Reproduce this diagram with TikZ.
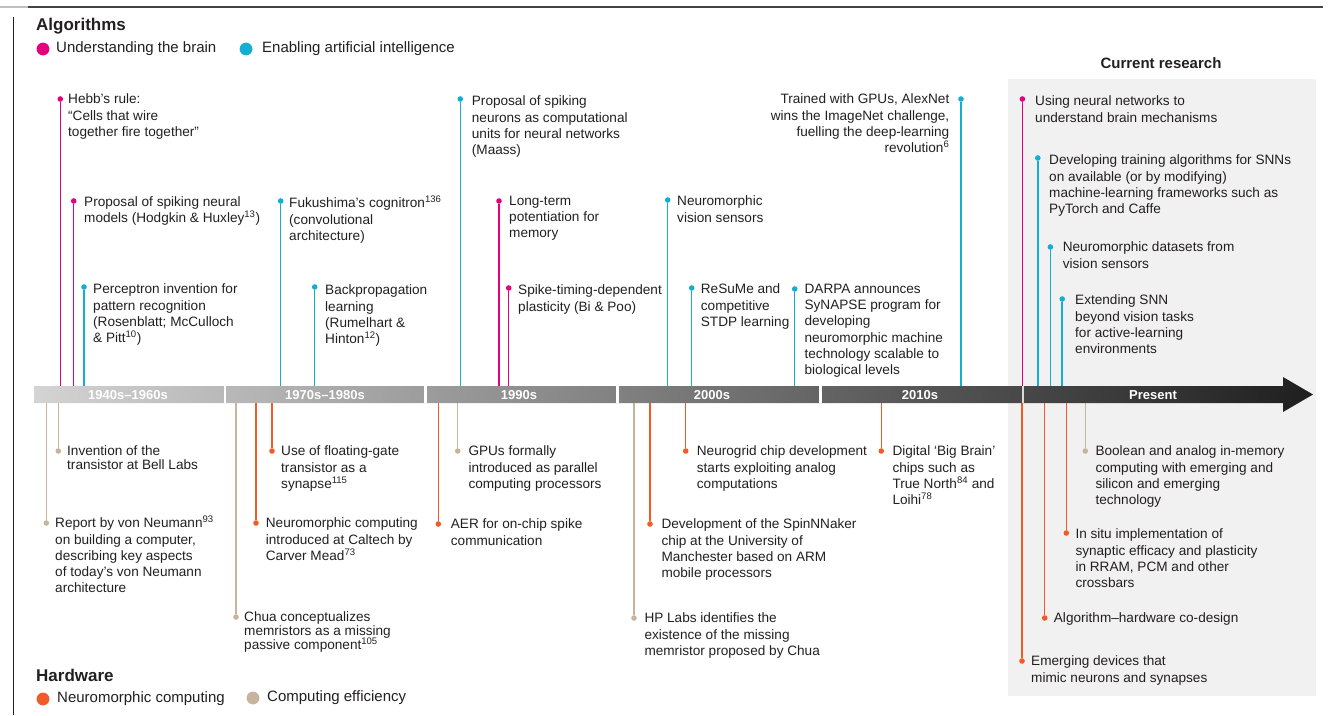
\documentclass[tikz,border=0pt]{standalone}
\usepackage{fontspec}
\setmainfont{Liberation Sans}
\usepackage{tikz}
\usetikzlibrary{arrows.meta}

\definecolor{ink}{HTML}{231F20}
\definecolor{brainc}{HTML}{E5007D}
\definecolor{aic}{HTML}{14AED2}
\definecolor{neuroc}{HTML}{F15A29}
\definecolor{effc}{HTML}{C8B49C}
\definecolor{bgc}{HTML}{F1F1F1}
\newcommand{\sups}[1]{\smash{\textsuperscript{#1}}}

\begin{document}
\begin{tikzpicture}[x=1pt, y=-1pt,
    evdot/.style={circle, inner sep=0pt, minimum size=5.6pt},
    brain/.style={evdot, fill=brainc}, ai/.style={evdot, fill=aic},
    neuro/.style={evdot, fill=neuroc}, eff/.style={evdot, fill=effc},
    brainln/.style={draw=brainc, line width=1.5pt}, ailn/.style={draw=aic, line width=1.5pt},
    neuroln/.style={draw=neuroc, line width=1.5pt}, effln/.style={draw=effc, line width=1.5pt},
    txt/.style={anchor=north west, align=left, inner sep=0pt, text=ink, font=\fontsize{13.6}{16.3}\selectfont},
    tight/.style={font=\fontsize{13.6}{13.8}\selectfont},
    era/.style={text=white, inner sep=0pt, font=\fontsize{13}{13}\bfseries},
    head/.style={anchor=west, inner sep=0pt, text=ink, font=\fontsize{17}{17}\bfseries},
    key/.style={anchor=west, inner sep=0pt, text=ink, font=\fontsize{15}{15}\selectfont},
    keydot/.style={circle, inner sep=0pt, minimum size=12.8pt}]
    \useasboundingbox (0,0) rectangle (1343,715);

    % 顶部横线与左侧竖线
    \draw[line width=1.6pt, gray!50] (0,7) -- (28,7);
    \draw[line width=1.6pt, ink!85] (28,7) -- (1323,7);
    \draw[line width=0.9pt, ink] (13.5,17) -- (13.5,715);

    % 当前研究的灰色背景
    \fill[bgc] (1008,79) rectangle (1316,696);
    \node[text=ink, font=\fontsize{15}{15}\bfseries] (cur) at (1161,63) {Current research};

    % 图例
    \node[head] (alg) at (36,26) {Algorithms};
    \node[keydot, fill=brainc] (kbrain) at (43,49) {};
    \node[key] (kbraint) at (56,49) {Understanding the brain};
    \node[keydot, fill=aic] (kai) at (246,49) {};
    \node[key] (kait) at (262,49) {Enabling artificial intelligence};
    \node[head] (hw) at (36,675) {Hardware};
    \node[keydot, fill=neuroc] (kneuro) at (43,699) {};
    \node[key] (kneurot) at (57,699) {Neuromorphic computing};
    \node[keydot, fill=effc] (keff) at (253,698) {};
    \node[key] (kefft) at (267,698) {Computing efficiency};

    % 时间轴上下边
    \coordinate (bartop) at (0,386);
    \coordinate (barbot) at (0,403);

    % 算法：轴上方
    \node[brain] (hebb) at (60.3,99) {};
    \node[txt] (hebbt) at (68,93.7) {Hebb’s rule:\\“Cells that wire\\together fire together”};
    \draw[brainln] (hebb) -- (hebb |- bartop);
    \node[brain] (hodg) at (73.7,201) {};
    \node[txt] (hodgt) at (84,196.2) {Proposal of spiking neural\\models (Hodgkin \& Huxley\sups{13})};
    \draw[brainln] (hodg) -- (hodg |- bartop);
    \node[ai] (perc) at (84,287) {};
    \node[txt] (perct) at (93,283.7) {Perceptron invention for\\pattern recognition\\(Rosenblatt; McCulloch\\\& Pitt\sups{10})};
    \draw[ailn] (perc) -- (perc |- bartop);
    \node[ai] (fuku) at (280.7,201) {};
    \node[txt] (fukut) at (289,197.7) {Fukushima’s cognitron\sups{136}\\(convolutional\\architecture)};
    \draw[ailn] (fuku) -- (fuku |- bartop);
    \node[ai] (back) at (314.7,287) {};
    \node[txt] (backt) at (325,284.7) {Backpropagation\\learning\\(Rumelhart \&\\Hinton\sups{12})};
    \draw[ailn] (back) -- (back |- bartop);
    \node[ai] (maass) at (460.3,99) {};
    \node[txt] (maasst) at (471.7,95.7) {Proposal of spiking\\neurons as computational\\units for neural networks\\(Maass)};
    \draw[ailn] (maass) -- (maass |- bartop);
    \node[brain] (ltp) at (499,201) {};
    \node[txt] (ltpt) at (509,195.7) {Long-term\\potentiation for\\memory};
    \draw[brainln] (ltp) -- (ltp |- bartop);
    \node[brain] (stdp) at (508.7,288) {};
    \node[txt] (stdpt) at (518,284.7) {Spike-timing-dependent\\plasticity (Bi \& Poo)};
    \draw[brainln] (stdp) -- (stdp |- bartop);
    \node[ai] (vis) at (667.7,200) {};
    \node[txt] (vist) at (677,195.7) {Neuromorphic\\vision sensors};
    \draw[ailn] (vis) -- (vis |- bartop);
    \node[ai] (resume) at (691.7,288) {};
    \node[txt] (resumet) at (700.7,283.7) {ReSuMe and\\competitive\\STDP learning};
    \draw[ailn] (resume) -- (resume |- bartop);
    \node[ai] (darpa) at (794.7,289) {};
    \node[txt] (darpat) at (804.4,283.7) {DARPA announces\\SyNAPSE program for\\developing\\neuromorphic machine\\technology scalable to\\biological levels};
    \draw[ailn] (darpa) -- (darpa |- bartop);
    \node[ai] (alex) at (961,99) {};
    \node[txt, anchor=north east, align=right] (alext) at (949.5,93.7) {Trained with GPUs, AlexNet\\wins the ImageNet challenge,\\fuelling the deep-learning\\revolution\sups{6}};
    \draw[ailn] (alex) -- (alex |- bartop);
    \node[brain] (mech) at (1022.4,99) {};
    \node[txt] (mecht) at (1035,95.7) {Using neural networks to\\understand brain mechanisms};
    \draw[brainln] (mech) -- (mech |- bartop);
    \node[ai] (train) at (1037.8,158) {};
    \node[txt] (traint) at (1049,154.7) {Developing training algorithms for SNNs\\on available (or by modifying)\\machine-learning frameworks such as\\PyTorch and Caffe};
    \draw[ailn] (train) -- (train |- bartop);
    \node[ai] (dset) at (1050.4,247) {};
    \node[txt] (dsett) at (1062.6,241.7) {Neuromorphic datasets from\\vision sensors};
    \draw[ailn] (dset) -- (dset |- bartop);
    \node[ai] (ext) at (1062.2,299) {};
    \node[txt] (extt) at (1075,294.7) {Extending SNN\\beyond vision tasks\\for active-learning\\environments};
    \draw[ailn] (ext) -- (ext |- bartop);

    % 硬件：轴下方
    \node[eff] (trans) at (58.3,451) {};
    \node[txt, tight] (transt) at (67,445.7) {Invention of the\\transistor at Bell Labs};
    \draw[effln] (trans) -- (trans |- barbot);
    \node[eff] (neum) at (46.3,523) {};
    \node[txt] (neumt) at (55,517.7) {Report by von Neumann\sups{93}\\on building a computer,\\describing key aspects\\of today’s von Neumann\\architecture};
    \draw[effln] (neum) -- (neum |- barbot);
    \node[eff] (chua) at (236,617) {};
    \node[txt, tight] (chuat) at (244,611.7) {Chua conceptualizes\\memristors as a missing\\passive component\sups{105}};
    \draw[effln] (chua) -- (chua |- barbot);
    \node[neuro] (fgate) at (272,451) {};
    \node[txt] (fgatet) at (281,445.7) {Use of floating-gate\\transistor as a\\synapse\sups{115}};
    \draw[neuroln] (fgate) -- (fgate |- barbot);
    \node[neuro] (mead) at (256,523) {};
    \node[txt] (meadt) at (265.7,517.7) {Neuromorphic computing\\introduced at Caltech by\\Carver Mead\sups{73}};
    \draw[neuroln] (mead) -- (mead |- barbot);
    \node[neuro] (aer) at (438.3,524) {};
    \node[txt] (aert) at (450.7,518.7) {AER for on-chip spike\\communication};
    \draw[neuroln] (aer) -- (aer |- barbot);
    \node[eff] (gpu) at (457.7,451) {};
    \node[txt] (gput) at (468.3,445.7) {GPUs formally\\introduced as parallel\\computing processors};
    \draw[effln] (gpu) -- (gpu |- barbot);
    \node[eff] (hp) at (634,618) {};
    \node[txt] (hpt) at (644.3,612.7) {HP Labs identifies the\\existence of the missing\\memristor proposed by Chua};
    \draw[effln] (hp) -- (hp |- barbot);
    \node[neuro] (spin) at (650,524) {};
    \node[txt] (spint) at (661.3,518.7) {Development of the SpinNNaker\\chip at the University of\\Manchester based on ARM\\mobile processors};
    \draw[neuroln] (spin) -- (spin |- barbot);
    \node[neuro] (ngrid) at (685.7,451) {};
    \node[txt] (ngridt) at (696.7,445.7) {Neurogrid chip development\\starts exploiting analog\\computations};
    \draw[neuroln] (ngrid) -- (ngrid |- barbot);
    \node[neuro] (bigb) at (881.3,451) {};
    \node[txt] (bigbt) at (892.3,445.7) {Digital ‘Big Brain’\\chips such as\\True North\sups{84} and\\Loihi\sups{78}};
    \draw[neuroln] (bigb) -- (bigb |- barbot);
    \node[neuro] (emerg) at (1022,661) {};
    \node[txt] (emergt) at (1031,655.7) {Emerging devices that\\mimic neurons and synapses};
    \draw[neuroln] (emerg) -- (emerg |- barbot);
    \node[neuro] (codes) at (1044.7,618) {};
    \node[txt] (codest) at (1053.7,612.7) {Algorithm–hardware co-design};
    \draw[neuroln] (codes) -- (codes |- barbot);
    \node[neuro] (insitu) at (1066.3,533) {};
    \node[txt] (insitut) at (1075.3,528.7) {In situ implementation of\\synaptic efficacy and plasticity\\in RRAM, PCM and other\\crossbars};
    \draw[neuroln] (insitu) -- (insitu |- barbot);
    \node[eff] (bool) at (1085.3,451) {};
    \node[txt] (boolt) at (1095.3,445.7) {Boolean and analog in-memory\\computing with emerging and\\silicon and emerging\\technology};
    \draw[effln] (bool) -- (bool |- barbot);

    % 渐变时间轴箭头
    \shade[left color=black!17, right color=black!88]
        (34,386) -- (1283,386) -- (1283,377) -- (1313,394.5) -- (1283,412) -- (1283,403) -- (34,403) -- cycle;
    \draw[white, line width=2.4pt] (225,386) -- (225,403);
    \draw[white, line width=2.4pt] (425.5,386) -- (425.5,403);
    \draw[white, line width=2.4pt] (617.5,386) -- (617.5,403);
    \draw[white, line width=2.4pt] (820.5,386) -- (820.5,403);
    \draw[white!85!black, line width=2pt] (1022.5,386) -- (1022.5,403);
    \node[era] (e40) at (128,395) {1940s–1960s};
    \node[era] (e70) at (325,395) {1970s–1980s};
    \node[era] (e90) at (519,395) {1990s};
    \node[era] (e00) at (712,395) {2000s};
    \node[era] (e10) at (920,395) {2010s};
    \node[era] (enow) at (1153,395) {Present};
\end{tikzpicture}
\end{document}
